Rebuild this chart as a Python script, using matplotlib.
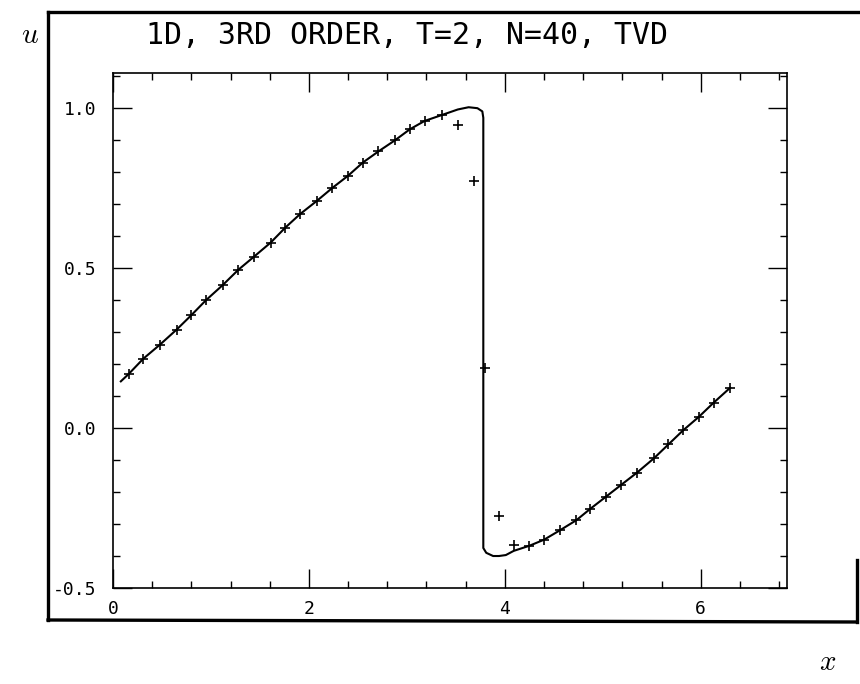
import matplotlib

matplotlib.use("Agg")

import matplotlib.pyplot as plt  # noqa: E402
from matplotlib.lines import Line2D  # noqa: E402
from matplotlib.ticker import MultipleLocator  # noqa: E402

# reference (exact) solution
line_x = [0.08, 0.16, 0.31, 0.48, 0.65, 0.80, 0.95, 1.12, 1.28, 1.44, 1.61,
          1.76, 1.91, 2.08, 2.24, 2.40, 2.55, 2.71, 2.88, 3.03, 3.18, 3.36,
          3.52, 3.63, 3.72, 3.77, 3.78, 3.78, 3.81, 3.88, 3.94, 4.01, 4.09,
          4.25, 4.40, 4.56, 4.73, 4.87, 5.03, 5.19, 5.35, 5.52, 5.67, 5.82,
          5.98, 6.13, 6.30]
line_u = [0.146, 0.169, 0.217, 0.261, 0.308, 0.353, 0.400, 0.447, 0.495,
          0.536, 0.580, 0.627, 0.669, 0.710, 0.751, 0.789, 0.830, 0.865,
          0.900, 0.934, 0.960, 0.979, 0.996, 1.003, 1.000, 0.990, 0.970,
          -0.375, -0.390, -0.400, -0.400, -0.397, -0.384, -0.368, -0.349,
          -0.320, -0.288, -0.253, -0.215, -0.177, -0.139, -0.095, -0.051,
          -0.007, 0.035, 0.079, 0.126]

# TVD scheme, N=40 points
pts_x = [0.16, 0.31, 0.48, 0.65, 0.80, 0.95, 1.12, 1.28, 1.44, 1.61, 1.76,
         1.91, 2.08, 2.24, 2.40, 2.55, 2.71, 2.88, 3.03, 3.18, 3.36, 3.52,
         3.68, 3.80, 3.94, 4.09, 4.25, 4.40, 4.56, 4.73, 4.87, 5.03, 5.19,
         5.35, 5.52, 5.67, 5.82, 5.98, 6.13, 6.30]
pts_u = [0.169, 0.217, 0.261, 0.308, 0.353, 0.400, 0.447, 0.495, 0.536,
         0.580, 0.627, 0.669, 0.710, 0.751, 0.789, 0.830, 0.865, 0.900,
         0.934, 0.960, 0.979, 0.946, 0.771, 0.187, -0.275, -0.365, -0.368,
         -0.349, -0.320, -0.288, -0.253, -0.215, -0.177, -0.139, -0.095,
         -0.051, -0.007, 0.035, 0.079, 0.126]

x_ticks = [0, 2, 4, 6]
x_tick_labels = ["0", "2", "4", "6"]
y_ticks = [-0.5, 0.0, 0.5, 1.0]
y_tick_labels = ["-0.5", "0.0", "0.5", "1.0"]

plt.rcParams["mathtext.fontset"] = "cm"
plt.rcParams["axes.unicode_minus"] = False

fig = plt.figure(figsize=(8.6, 6.84), dpi=100)
ax = fig.add_axes([113 / 860, 96 / 684, 674 / 860, 515 / 684])

ax.plot(line_x, line_u, color="black", linewidth=1.5)
ax.plot(pts_x, pts_u, "+", color="black", markersize=7, markeredgewidth=1.2)

ax.set_xlim(0, 6.88)
ax.set_ylim(-0.5, 1.11)

ax.set_xticks(x_ticks)
ax.set_xticklabels(x_tick_labels)
ax.set_yticks(y_ticks)
ax.set_yticklabels(y_tick_labels)
ax.xaxis.set_minor_locator(MultipleLocator(0.4))
ax.yaxis.set_minor_locator(MultipleLocator(0.1))

ax.tick_params(which="both", direction="in", top=True, right=True,
               colors="black", width=1.0)
ax.tick_params(which="major", length=14)
ax.tick_params(which="minor", length=5)
ax.tick_params(axis="x", pad=9)
ax.tick_params(axis="y", pad=12)
for lab in ax.get_xticklabels() + ax.get_yticklabels():
    lab.set_family("DejaVu Sans Mono")
    lab.set_fontsize(13)

for side in ["top", "bottom", "left", "right"]:
    ax.spines[side].set_linewidth(1.2)

fig.text(407 / 860, 1 - 35 / 684, "1D, 3RD ORDER, T=2, N=40, TVD",
         family="DejaVu Sans Mono", fontsize=21.5, ha="center", va="center")
fig.text(30 / 860, 1 - 35 / 684, "$u$", fontsize=21, ha="center", va="center")
fig.text(828 / 860, 1 - 662 / 684, "$x$", fontsize=21, ha="center", va="center")

# outer frame of the scanned page
frame_kw = dict(color="black", linewidth=2.4, transform=fig.transFigure)
fig.add_artist(Line2D([48 / 860, 48 / 860], [1 - 12 / 684, 1 - 620 / 684], **frame_kw))
fig.add_artist(Line2D([48 / 860, 1.0], [1 - 12 / 684, 1 - 12 / 684], **frame_kw))
fig.add_artist(Line2D([48 / 860, 857 / 860], [1 - 620 / 684, 1 - 622 / 684], **frame_kw))
fig.add_artist(Line2D([857 / 860, 857 / 860], [1 - 560 / 684, 1 - 622 / 684], **frame_kw))

fig.savefig("out.png", dpi=100)
